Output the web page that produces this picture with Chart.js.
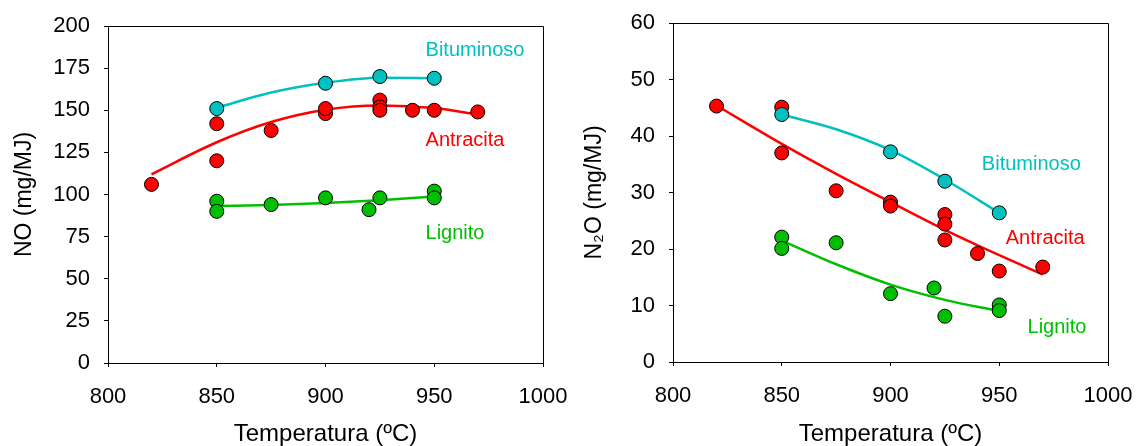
<!DOCTYPE html>
<html>
<head>
<meta charset="utf-8">
<script src="https://cdn.jsdelivr.net/npm/chart.js@4.4.1/dist/chart.umd.min.js"></script>
<style>
html,body{margin:0;padding:0;background:#fff;width:1137px;height:446px;overflow:hidden;}
#c1{position:absolute;left:0;top:0;}
#c2{position:absolute;left:568px;top:0;}
</style>
</head>
<body>
<canvas id="c1" width="568" height="446"></canvas>
<canvas id="c2" width="569" height="446"></canvas>
<script>
// ---------- Data: NO (mg/MJ) ----------
const xTicks = [800, 850, 900, 950, 1000];
const noBitX = [850, 900, 925, 950];
const noBitY = [151, 166, 170, 169];
const noAntX = [820, 850, 850, 875, 900, 900, 925, 925, 925, 940, 950, 970];
const noAntY = [106, 142, 120, 138, 148, 151, 156, 152, 150, 150, 150, 149];
const noLigX = [850, 850, 875, 900, 920, 925, 950, 950];
const noLigY = [96, 90, 94, 98, 91, 98, 102, 98];
const noBitFitX = [850, 875, 900, 925, 950];
const noBitFitY = [151.5, 160.5, 166.3, 169.3, 169.0];
const noAntFitX = [820, 850, 875, 900, 925, 950, 970];
const noAntFitY = [112, 131, 143, 150.3, 152.8, 151.3, 147.5];
const noLigFitX = [850, 875, 900, 925, 950];
const noLigFitY = [93.2, 93.8, 95.0, 96.6, 98.8];

// ---------- Data: N2O (mg/MJ) ----------
const n2oBitX = [850, 900, 925, 950];
const n2oBitY = [43.8, 37.2, 32.0, 26.4];
const n2oAntX = [820, 850, 850, 875, 900, 900, 925, 925, 925, 940, 950, 970];
const n2oAntY = [45.3, 45.1, 37.0, 30.3, 28.3, 27.6, 26.1, 24.4, 21.6, 19.2, 16.1, 16.8];
const n2oLigX = [850, 850, 875, 900, 920, 925, 950, 950];
const n2oLigY = [22.1, 20.1, 21.1, 12.1, 13.1, 8.1, 10.1, 9.1];
const n2oBitFitX = [850, 875, 900, 925, 950];
const n2oBitFitY = [43.8, 41.2, 37.5, 32.3, 26.4];
const n2oAntFitX = [820, 850, 875, 900, 925, 950, 970];
const n2oAntFitY = [45.4, 38.6, 33.3, 28.3, 23.4, 18.9, 15.5];
const n2oLigFitX = [850, 875, 900, 925, 950];
const n2oLigFitY = [21.5, 17.3, 13.7, 11.0, 9.0];

const seriesNames = ['Bituminoso', 'Antracita', 'Lignito'];
const CYAN = '#00C0C0', RED = '#FF0000', GREEN = '#00BF00';
const FONT = "'Liberation Sans', Arial, sans-serif";

function pts(xs, ys){ return xs.map((x,i)=>({x:x, y:ys[i]})); }

function pointSet(name, xs, ys, color){
  return {type:'scatter', label:name, data:pts(xs,ys), backgroundColor:color,
    borderColor:'#000', borderWidth:1, pointRadius:7, pointHoverRadius:7, showLine:false};
}
function fitSet(name, xs, ys, color){
  return {type:'line', label:name+' fit', data:pts(xs,ys), borderColor:color, borderWidth:2.5,
    pointRadius:0, fill:false, cubicInterpolationMode:'monotone'};
}

const framePlugin = {
  id:'frame',
  afterDatasetsDraw(chart){
    const a = chart.chartArea, ctx = chart.ctx;
    ctx.save();
    ctx.strokeStyle = '#000'; ctx.lineWidth = 1;
    ctx.beginPath();
    ctx.moveTo(a.left, a.top + 0.5); ctx.lineTo(a.right + 0.5, a.top + 0.5);
    ctx.lineTo(a.right + 0.5, a.bottom);
    ctx.stroke();
    ctx.restore();
  }
};

const labelPlugin = {
  id:'seriesLabels',
  afterDraw(chart, args, opts){
    const ctx = chart.ctx, xs = chart.scales.x, ys = chart.scales.y;
    ctx.save();
    ctx.font = '20px ' + FONT;
    ctx.textAlign = 'left'; ctx.textBaseline = 'middle';
    (opts.items || []).forEach(it => {
      ctx.fillStyle = it.color;
      ctx.fillText(it.text, xs.getPixelForValue(it.x), ys.getPixelForValue(it.y));
    });
    ctx.restore();
  }
};

function makeChart(id, datasets, yMax, yStep, yTitle, yW, xH, pad, titleLH, labels){
  return new Chart(document.getElementById(id), {
    data:{datasets:datasets},
    plugins:[framePlugin, labelPlugin],
    options:{
      responsive:false, animation:false, devicePixelRatio:1,
      layout:{padding:pad},
      plugins:{legend:{display:false}, tooltip:{enabled:false}, seriesLabels:{items:labels}},
      scales:{
        x:{type:'linear', min:800, max:1000,
          afterBuildTicks(s){ s.ticks = xTicks.map(v=>({value:v})); },
          afterFit(s){ s.height = xH; s.paddingLeft = 0; s.paddingRight = 0; },
          grid:{drawOnChartArea:false, drawTicks:true, tickLength:4, color:'#000'},
          border:{display:true, color:'#000'},
          ticks:{color:'#000', font:{family:FONT, size:22}, padding:17, maxRotation:0,
            callback:(v)=>String(v)},
          title:{display:true, text:'Temperatura (ºC)', color:'#000', font:{family:FONT, size:24, lineHeight:1}, padding:0}
        },
        y:{type:'linear', min:0, max:yMax,
          ticks:{stepSize:yStep, color:'#000', font:{family:FONT, size:22}, padding:14,
            callback:(v)=>String(v)},
          afterFit(s){ s.width = yW; s.paddingTop = 0; s.paddingBottom = 0; },
          grid:{drawOnChartArea:false, drawTicks:true, tickLength:4, color:'#000'},
          border:{display:true, color:'#000'},
          title:{display:true, text:yTitle, color:'#000', font:{family:FONT, size:23, lineHeight:titleLH}, padding:0}
        }
      }
    }
  });
}

makeChart('c1', [
  pointSet(seriesNames[0], noBitX, noBitY, CYAN),
  pointSet(seriesNames[1], noAntX, noAntY, RED),
  pointSet(seriesNames[2], noLigX, noLigY, GREEN),
  fitSet(seriesNames[0], noBitFitX, noBitFitY, CYAN),
  fitSet(seriesNames[1], noAntFitX, noAntFitY, RED),
  fitSet(seriesNames[2], noLigFitX, noLigFitY, GREEN)
], 200, 25, 'NO (mg/MJ)', 108, 83, {left:0, right:25, top:26, bottom:0}, 2.17,
[
  {text:seriesNames[0], x:946, y:185.6, color:CYAN},
  {text:seriesNames[1], x:946, y:132, color:RED},
  {text:seriesNames[2], x:946, y:77, color:GREEN}
]);

makeChart('c2', [
  pointSet(seriesNames[0], n2oBitX, n2oBitY, CYAN),
  pointSet(seriesNames[1], n2oAntX, n2oAntY, RED),
  pointSet(seriesNames[2], n2oLigX, n2oLigY, GREEN),
  fitSet(seriesNames[0], n2oBitFitX, n2oBitFitY, CYAN),
  fitSet(seriesNames[1], n2oAntFitX, n2oAntFitY, RED),
  fitSet(seriesNames[2], n2oLigFitX, n2oLigFitY, GREEN)
], 60, 10, 'N₂O (mg/MJ)', 105, 84, {left:0, right:29, top:23, bottom:0}, 2.3,
[
  {text:seriesNames[0], x:942, y:34.9, color:CYAN},
  {text:seriesNames[1], x:953, y:21.8, color:RED},
  {text:seriesNames[2], x:963, y:6.05, color:GREEN}
]);
</script>
</body>
</html>
